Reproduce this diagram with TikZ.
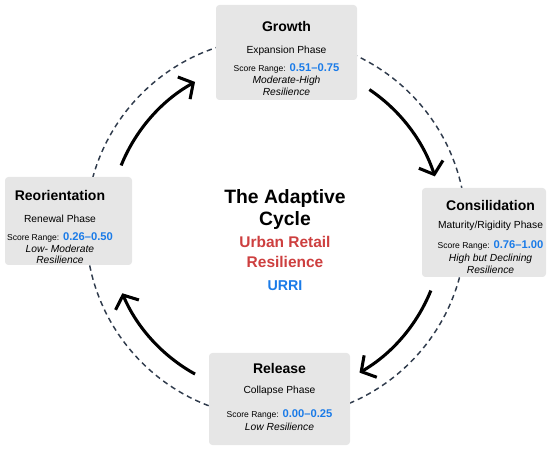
\documentclass[tikz,border=0pt]{standalone}
\usepackage{fontspec}
\setmainfont{Liberation Sans}
\usetikzlibrary{arrows.meta,positioning}
\definecolor{ACGray}{HTML}{E6E6E6}
\definecolor{ACBlue}{HTML}{1A7BE8}
\definecolor{ACRed}{HTML}{CD3F3F}
\definecolor{ACRing}{HTML}{2F3B4C}
\newcommand{\phasettl}[1]{{\fontsize{10.5}{12}\selectfont\bfseries #1}}
\newcommand{\scorerng}[1]{{\fontsize{6.4}{8}\selectfont Score Range:} {\fontsize{8.4}{10}\selectfont\bfseries\color{ACBlue}#1}}
\begin{document}
\begin{tikzpicture}[x=0.75pt,y=0.75pt,
  phase/.style={fill=ACGray,rounded corners=2.5pt,inner sep=0pt},
  phasetxt/.style={inner sep=0pt,align=center,font=\fontsize{7.7}{8.6}\selectfont},
  ring/.style={draw=ACRing,line width=1.1pt,dash pattern=on 4pt off 3pt},
  cyc/.style={line width=2.3pt,-{Straight Barb[length=8pt,width=19pt]}}
]
\useasboundingbox (0,0) rectangle (550,-452);
\coordinate (hub) at (276,-228);
\draw[ring] (hub) circle[radius=190];
% the four phases
\node[phase,minimum width=105.75pt,minimum height=71.25pt] (growth) at (286.5,-52.5) {};
\node[phase,minimum width=95.25pt,minimum height=66pt] (reorient) at (68.5,-221) {};
\node[phase,minimum width=93pt,minimum height=66.75pt] (consil) at (484,-232.5) {};
\node[phase,minimum width=105.75pt,minimum height=69pt] (release) at (279.5,-399) {};
\node[phasetxt,below=12.6pt of growth.north] (growth-t)
  {\phasettl{Growth}\\[7.9pt]Expansion Phase\\[4.9pt]\scorerng{0.51–0.75}\\
   \textit{Moderate-High}\\[0.4pt]\textit{Resilience}};
\node[phasetxt,below=10.3pt of reorient.north,xshift=-6.4pt] (reorient-t)
  {\phasettl{Reorientation}\\[7.9pt]Renewal Phase\\[4.9pt]\scorerng{0.26–0.50}\\
   \textit{Low- Moderate}\\\textit{Resilience}};
\node[phasetxt,below=9.6pt of consil.north,xshift=4.9pt] (consil-t)
  {\phasettl{Consilidation}\\[4.9pt]Maturity/Rigidity Phase\\[6.4pt]\scorerng{0.76–1.00}\\[1.1pt]
   \textit{High but Declining}\\\textit{Resilience}};
\node[phasetxt,below=7.4pt of release.north] (release-t)
  {\phasettl{Release}\\[6.4pt]Collapse Phase\\[10.1pt]\scorerng{0.00–0.25}\\[1.1pt]
   \textit{Low Resilience}};
% centre title
\node[anchor=north,align=center,inner sep=0pt,font=\fontsize{11.6}{14}\selectfont\bfseries] (hub-t) at (285,-189)
  {{\fontsize{14.5}{17}\selectfont The Adaptive}\\[3pt]{\fontsize{14.5}{17}\selectfont Cycle}\\[2.5pt]
   \textcolor{ACRed}{Urban Retail}\\[0.3pt]\textcolor{ACRed}{Resilience}\\[3.3pt]
   {\fontsize{10.7}{13}\selectfont\color{ACBlue}URRI}};
% cycle arrows
\draw[cyc] (hub) ++(158:167) arc[start angle=158,end angle=119,radius=167];
\draw[cyc] (hub) ++(56:167) arc[start angle=56,end angle=18,radius=167];
\draw[cyc] (hub) ++(-22:167) arc[start angle=-22,end angle=-60,radius=167];
\draw[cyc] (hub) ++(241:167) arc[start angle=241,end angle=203,radius=167];
\end{tikzpicture}
\end{document}
